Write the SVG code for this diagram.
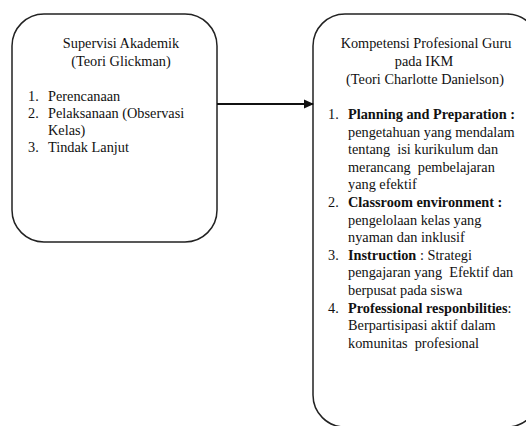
<svg xmlns="http://www.w3.org/2000/svg" width="526" height="426" viewBox="0 0 526 426">
<defs>
<style>
.box{fill:#fff;stroke:#222;stroke-width:1.5}
text{font-family:"Liberation Serif","Times New Roman",serif;font-size:14.3px;fill:#111;white-space:pre}
.c{text-anchor:middle}
.b{font-weight:bold}
.conn{stroke:#111;stroke-width:2;fill:none}
</style>
<marker id="ah" markerWidth="10" markerHeight="10" refX="9" refY="5" orient="auto" markerUnits="userSpaceOnUse">
<path d="M0,0.5 L10,5 L0,9.5 Z" fill="#111"/>
</marker>
</defs>
<rect width="526" height="426" fill="#fff"/>
<g id="supervisi">
<rect class="box" x="12" y="14" width="205" height="228" rx="32" ry="32"/>
<text class="c" x="121" y="48">Supervisi Akademik</text>
<text class="c" x="121" y="66">(Teori Glickman)</text>
<text x="28" y="101">1.</text><text x="48" y="101">Perencanaan</text>
<text x="28" y="118">2.</text><text x="48" y="118">Pelaksanaan (Observasi</text>
<text x="48" y="135">Kelas)</text>
<text x="28" y="152">3.</text><text x="48" y="152">Tindak Lanjut</text>
</g>
<g id="kompetensi">
<rect class="box" x="313" y="14" width="226" height="413" rx="32" ry="32"/>
<text class="c" x="426" y="48">Kompetensi Profesional Guru</text>
<text class="c" x="424" y="66">pada IKM</text>
<text class="c" x="425" y="84">(Teori Charlotte Danielson)</text>
<text x="328" y="119">1.</text><text class="b" x="348" y="119">Planning and Preparation :</text>
<text x="348" y="136.6">pengetahuan yang mendalam</text>
<text x="348" y="154.2">tentang  isi kurikulum dan</text>
<text x="348" y="171.8">merancang  pembelajaran</text>
<text x="348" y="189.4">yang efektif</text>
<text x="328" y="207">2.</text><text class="b" x="348" y="207">Classroom environment :</text>
<text x="348" y="224.6">pengelolaan kelas yang</text>
<text x="348" y="242.2">nyaman dan inklusif</text>
<text x="328" y="259.8">3.</text><text x="348" y="259.8"><tspan class="b">Instruction</tspan> : Strategi</text>
<text x="348" y="277.4">pengajaran yang  Efektif dan</text>
<text x="348" y="295">berpusat pada siswa</text>
<text x="328" y="312.6">4.</text><text x="348" y="312.6"><tspan class="b">Professional responbilities</tspan>:</text>
<text x="348" y="330.2">Berpartisipasi aktif dalam</text>
<text x="348" y="347.8">komunitas  profesional</text>
</g>
<g id="connectors">
<line class="conn" x1="217" y1="104" x2="313" y2="104" marker-end="url(#ah)"/>
</g>
</svg>
